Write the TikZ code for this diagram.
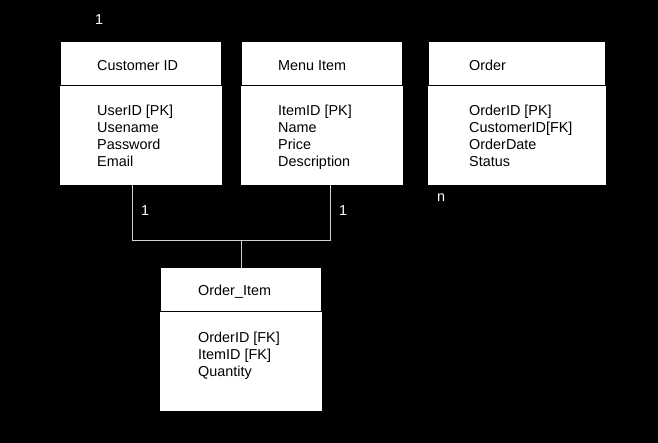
\documentclass[tikz,border=0pt]{standalone}
\usepackage{fontspec}
\setmainfont{Liberation Sans}
\begin{document}
\begin{tikzpicture}[x=1pt,y=-1pt,
 hdr/.style={fill=white, draw=none, minimum height=43pt, anchor=north west, inner sep=0pt},
 bdy/.style={fill=white, draw=none, minimum height=99pt, anchor=north west, inner sep=0pt},
 txt/.style={font=\fontsize{14.4}{17}\selectfont, text=black, inner sep=0pt, align=left, anchor=base west},
 lbl/.style={font=\fontsize{14.4}{17}\selectfont, text=white, inner sep=0pt, anchor=base west},
 conn/.style={draw=white!82!black, line width=1pt}]
\fill[black] (0,0) rectangle (658,443);
\useasboundingbox (0,0) rectangle (658,443);
% Customer
\node[bdy, minimum width=162pt] (cb) at (60,86) {};
\node[hdr, minimum width=160pt] (ch) at (61,42) {};
\node[txt] (ct) at (97,71) {Customer ID};
\node[txt] (cf) at (97,167) {UserID [PK]\\Usename\\Password\\Email};
% Menu
\node[bdy, minimum width=162pt] (mb) at (241,86) {};
\node[hdr, minimum width=160pt] (mh) at (242,42) {};
\node[txt] (mt) at (278,71) {Menu Item};
\node[txt] (mf) at (278,167) {ItemID [PK]\\Name\\Price\\Description};
% Order
\node[bdy, minimum width=178pt] (ob) at (428,86) {};
\node[hdr, minimum width=176pt] (oh) at (429,42) {};
\node[txt] (ot) at (469,71) {Order};
\node[txt] (of) at (469,167) {OrderID [PK]\\CustomerID[FK]\\OrderDate\\Status};
% Order_Item
\node[bdy, minimum width=162pt] (ib) at (160,312) {};
\node[hdr, minimum width=160pt] (ih) at (161,268) {};
\node[txt] (it) at (198,296) {Order\_Item};
\node[txt] (if) at (198,376) {OrderID [FK]\\ItemID [FK]\\Quantity};
% connectors
\coordinate (c1) at (132.5,241);
\coordinate (c2) at (330.5,241);
\coordinate (j) at (ih.north |- c1);
\draw[conn] (cb.south -| c1) -- (c1) -- (c2) -- (mb.south -| c2);
\draw[conn] (j) -- (ih.north);
% labels
\node[lbl] (l1) at (95,25) {1};
\node[lbl] (l2) at (141,216) {1};
\node[lbl] (l3) at (339,216) {1};
\node[lbl] (l4) at (437,202) {n};
\end{tikzpicture}
\end{document}
